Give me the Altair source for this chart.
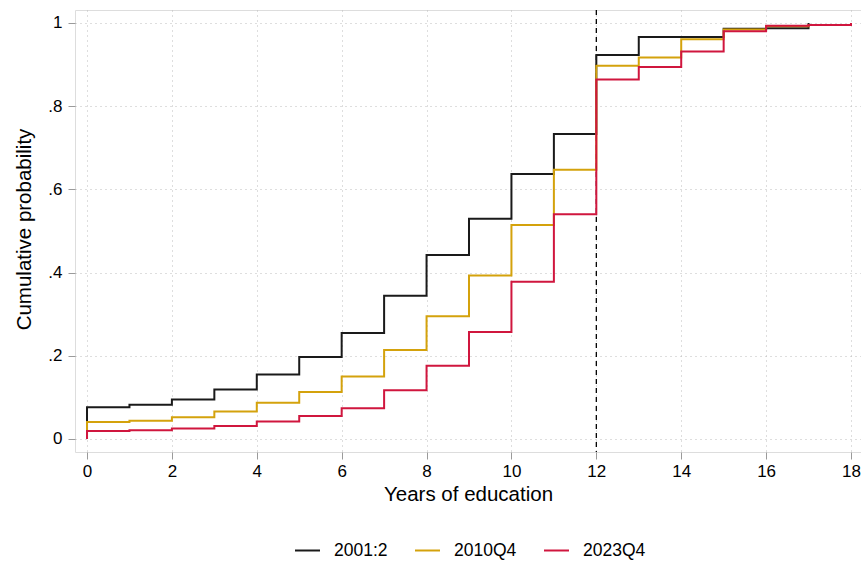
import altair as alt
import pandas as pd

# Years of education (step positions)
years_2001 = list(range(0, 18))          # 0..17
years_2010 = list(range(0, 19))          # 0..18
years_2023 = list(range(0, 19))          # 0..18

cdf_2001 = [0.076, 0.082, 0.095, 0.119, 0.155, 0.197, 0.255, 0.344, 0.442, 0.529,
            0.637, 0.733, 0.923, 0.966, 0.966, 0.986, 0.987, 1.000]
cdf_2010 = [0.041, 0.044, 0.052, 0.066, 0.087, 0.113, 0.150, 0.214, 0.295, 0.393,
            0.514, 0.647, 0.897, 0.917, 0.961, 0.984, 0.992, 0.995, 1.000]
cdf_2023 = [0.019, 0.021, 0.025, 0.031, 0.042, 0.055, 0.074, 0.117, 0.176, 0.257,
            0.378, 0.540, 0.864, 0.894, 0.931, 0.980, 0.993, 0.995, 1.000]

series_names = ["2001:2", "2010Q4", "2023Q4"]
series_colors = ["#1a1a1a", "#d4a20c", "#d0163e"]

x_ticks = list(range(0, 19, 2))
y_ticks = [0, 0.2, 0.4, 0.6, 0.8, 1.0]
cutoff_year = 12

rows = []
for order, (name, xs, ys) in enumerate(zip(series_names,
                                            [years_2001, years_2010, years_2023],
                                            [cdf_2001, cdf_2010, cdf_2023])):
    # start the step line from zero at x=0
    rows.append({"series": name, "years": 0, "cdf": 0.0, "idx": -1, "ord": order})
    for i, (x, y) in enumerate(zip(xs, ys)):
        rows.append({"series": name, "years": x, "cdf": y, "idx": i, "ord": order})
df = pd.DataFrame(rows)

FONT = "Liberation Sans"

x_scale = alt.Scale(domain=[-0.283, 18.236], nice=False, zero=False)
y_scale = alt.Scale(domain=[-0.0313, 1.031], nice=False, zero=False)

lines = alt.Chart(df).mark_line(interpolate="step-after", strokeWidth=2, clip=True).encode(
    x=alt.X("years:Q", scale=x_scale,
            axis=alt.Axis(values=x_ticks, title="Years of education", grid=True,
                          gridDash=[1, 4], gridColor="#bdbdbd", gridWidth=1,
                          tickSize=7, tickColor="#9a9a9a", tickWidth=1,
                          labelPadding=4, labelFontSize=17, labelColor="#000",
                          titleFontSize=20.5, titleFontWeight="normal", titleColor="#000",
                          titlePadding=5, domain=False, labelFont=FONT, titleFont=FONT)),
    y=alt.Y("cdf:Q", scale=y_scale,
            axis=alt.Axis(values=y_ticks, title="Cumulative probability", grid=True,
                          gridDash=[1, 4], gridColor="#bdbdbd", gridWidth=1,
                          tickSize=7, tickColor="#9a9a9a", tickWidth=1,
                          labelPadding=6, labelFontSize=17, labelColor="#000",
                          labelExpr="datum.value == 0 ? '0' : (datum.value == 1 ? '1' : replace(format(datum.value, '.1f'), '0.', '.'))",
                          titleFontSize=20.5, titleFontWeight="normal", titleColor="#000",
                          titleX=-51, titleY=219, titleBaseline="middle", titleAngle=-90,
                          domain=False, labelFont=FONT, titleFont=FONT)),
    color=alt.Color("series:N",
                    scale=alt.Scale(domain=series_names, range=series_colors),
                    legend=alt.Legend(title=None, orient="none", direction="horizontal",
                                      legendX=219, legendY=527, padding=0,
                                      symbolType="stroke", symbolSize=625,
                                      symbolStrokeWidth=2, labelOffset=13,
                                      columnPadding=23, labelFontSize=17.5,
                                      labelFont=FONT, labelColor="#000")),
    order=alt.Order("idx:Q"),
    detail="series:N",
)

cutoff = alt.Chart(pd.DataFrame({"x": [cutoff_year]})).mark_rule(
    color="#000", strokeDash=[5, 4], strokeWidth=1.3
).encode(x=alt.X("x:Q", scale=x_scale))

chart = alt.layer(cutoff, lines).properties(
    width=786, height=442,
    padding={"left": 75, "top": 10, "right": 0, "bottom": 109},
    autosize=alt.AutoSizeParams(type="none"),
    background="white",
).configure_view(stroke="#2a2a2a", strokeWidth=1.5).configure(font=FONT)

chart.save("out.html", embed_options={"renderer": "svg", "actions": False})
